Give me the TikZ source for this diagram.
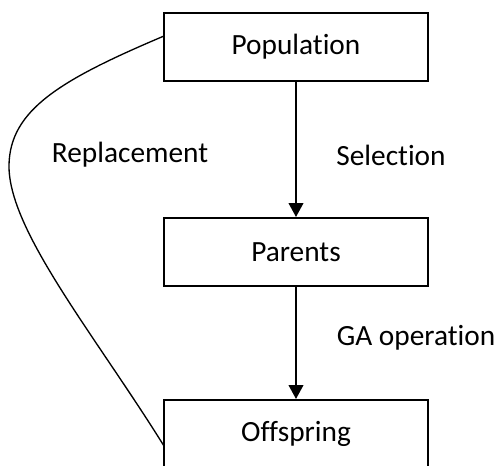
\documentclass[tikz,border=0pt]{standalone}
\usepackage{fontspec}
\setmainfont{Carlito}[Ligatures={NoCommon}]
\usetikzlibrary{arrows.meta}

\tikzset{every picture/.style={line width=0.75pt}}
\tikzset{
  gabox/.style={draw, line width=1.5pt, minimum width=198pt, minimum height=51pt, inner sep=0pt, font=\fontsize{22}{26}\selectfont},
  galabel/.style={inner sep=0.75pt, font=\fontsize{22}{26}\selectfont},
  gaflow/.style={line width=1.5pt, -{Triangle[length=10.5pt,width=11pt]}}
}

\begin{document}
\begin{tikzpicture}[x=0.75pt,y=0.75pt,yscale=-1,xscale=1]
		\useasboundingbox (0,0) rectangle (496,465); %set diagram size
		
		% Boxes
		\node [gabox] (pop) at (296,47) {Population};
		\node [gabox] (par) at (296,252) {Parents};
		\node [gabox] (off) at (296,434) {Offspring};
		
		% Ends of the loop
		\coordinate (popin) at (164,36);
		\coordinate (offout) at (164,446);
		
		%Straight Lines
		\draw [gaflow] (pop) -- (par);
		\draw [gaflow] (par) -- (off);
		%Curve Lines
		\draw [line width=1pt] (popin) .. controls (60,80) and (10,110) .. (9,165) .. controls (8,230) and (95,335) .. (offout);
		
		% Text Node
		\node [galabel] (repl) at (130,155) {Replacement};
		% Text Node
		\node [galabel] (sel) at (391,155) {Selection};
		% Text Node
		\node [galabel] (gaop) at (416,338) {GA operation};
		
\end{tikzpicture}
\end{document}
